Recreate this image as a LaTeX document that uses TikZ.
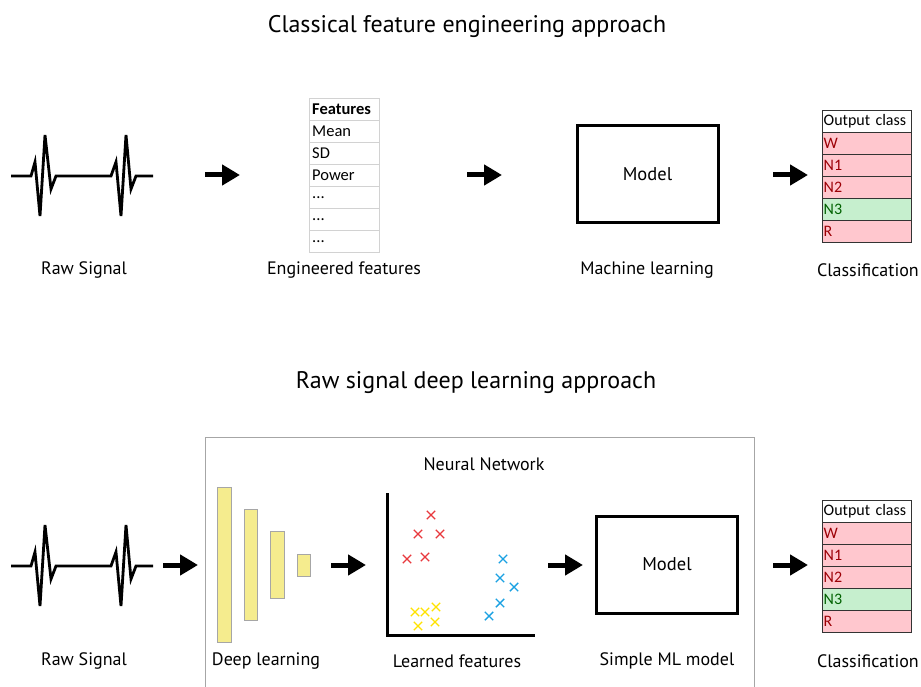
\documentclass[tikz,border=0pt]{standalone}
\usepackage{fontspec}
\setmainfont{PT Sans}
\newfontfamily\calibri{Carlito}
\usetikzlibrary{arrows.meta,shapes.misc}
\definecolor{badfill}{HTML}{FFC7CE}
\definecolor{badtext}{HTML}{9C0006}
\definecolor{goodfill}{HTML}{C6EFCE}
\definecolor{goodtext}{HTML}{006100}
\definecolor{layerfill}{HTML}{F5EC8E}
\definecolor{ptred}{HTML}{E8383D}
\definecolor{ptblue}{HTML}{1BA1E2}
\definecolor{ptyellow}{HTML}{FFE200}
\begin{document}
\begin{tikzpicture}[x=1pt,y=-1pt,
  bigarrow/.style={line width=5pt,-{Triangle[length=18pt,width=20pt]}},
  lbl/.style={font=\fontsize{18}{21}\selectfont},
  ttl/.style={font=\fontsize{24}{28}\selectfont},
  ecg/.style={line width=2.8pt},
  feat/.style={draw=gray!35, anchor=north west, minimum height=22pt, text width=64pt, inner xsep=3pt, inner ysep=0pt, align=left, font=\calibri\fontsize{16.5}{18}\selectfont},
  outc/.style={draw=black!80, anchor=north west, minimum height=22pt, text width=86pt, inner xsep=1.5pt, inner ysep=0pt, align=left, font=\calibri\fontsize{16}{18}\selectfont, fill=badfill, text=badtext},
  good/.style={fill=goodfill, text=goodtext},
  modelbox/.style={draw, line width=3pt, minimum width=141pt, minimum height=97pt, font=\fontsize{18.5}{21}\selectfont},
  layer/.style={draw=gray!70, fill=layerfill, line width=0.8pt},
  xm/.style={cross out, draw=#1, line width=1.4pt, minimum size=7pt, inner sep=0pt}]
\useasboundingbox (0,0) rectangle (921,687);

\node[ttl] (t1) at (467,27) {Classical feature engineering approach};
\node[ttl] (t2) at (476,383) {Raw signal deep learning approach};

\draw[ecg] (11,176) -- (31,176) -- (35,162) -- (40,216) -- (45,135) -- (51,189) -- (56,176) -- (111,176) -- (116,162) -- (121,216) -- (126,135) -- (131,189) -- (136,176) -- (153,176);
\draw[ecg] (11,566) -- (31,566) -- (35,552) -- (40,606) -- (45,525) -- (51,579) -- (56,566) -- (111,566) -- (116,552) -- (121,606) -- (126,525) -- (131,579) -- (136,566) -- (153,566);

\node[feat, font=\calibri\bfseries\fontsize{16.5}{18}\selectfont] (f0) at (309,98) {Features};
\node[feat] (f1) at (309,120) {Mean};
\node[feat] (f2) at (309,142) {SD};
\node[feat] (f3) at (309,164) {Power};
\node[feat] (f4) at (309,186) {...};
\node[feat] (f5) at (309,208) {...};
\node[feat] (f6) at (309,230) {...};

\node[modelbox] (mdl1) at (647.5,174.5) {Model};

\node[outc, fill=white, text=black] (c0) at (822,110) {Output class};
\node[outc] (c1) at (822,132) {W};
\node[outc] (c2) at (822,154) {N1};
\node[outc] (c3) at (822,176) {N2};
\node[outc, good] (c4) at (822,198) {N3};
\node[outc] (c5) at (822,220) {R};

\coordinate (a1s) at (205,175); \coordinate (a1e) at (240,175);
\coordinate (a2s) at (467,175); \coordinate (a2e) at (502,175);
\coordinate (a3s) at (773,175); \coordinate (a3e) at (808,175);
\draw[bigarrow] (a1s) -- (a1e);
\draw[bigarrow] (a2s) -- (a2e);
\draw[bigarrow] (a3s) -- (a3e);

\node[lbl] (l1) at (84,270) {Raw Signal};
\node[lbl] (l2) at (344,270) {Engineered features};
\node[lbl] (l3) at (647,270) {Machine learning};
\node[lbl] (l4) at (868,270) {Classification};

\draw[gray!70, line width=0.8pt] (205,690) -- (205,437) -- (754,437) -- (754,690);
\node[lbl] (nn) at (484,464) {Neural Network};

\draw[layer] (217,487) rectangle (231,642);
\draw[layer] (244,509) rectangle (257,620);
\draw[layer] (270,531) rectangle (284,598);
\draw[layer] (297,554) rectangle (310,576);

\draw[line width=3pt] (387,493) -- (387,635) -- (535,635);

\node[xm=ptred] (r1) at (431,515) {};
\node[xm=ptred] (r2) at (418,534) {};
\node[xm=ptred] (r3) at (440,534) {};
\node[xm=ptred] (r4) at (407,559) {};
\node[xm=ptred] (r5) at (425,557) {};
\node[xm=ptblue] (b1) at (503,559) {};
\node[xm=ptblue] (b2) at (500,578) {};
\node[xm=ptblue] (b3) at (514,587) {};
\node[xm=ptblue] (b4) at (500,603) {};
\node[xm=ptblue] (b5) at (489,616) {};
\node[xm=ptyellow] (y1) at (415,612) {};
\node[xm=ptyellow] (y2) at (425,612) {};
\node[xm=ptyellow] (y3) at (436,607) {};
\node[xm=ptyellow] (y4) at (418,626) {};
\node[xm=ptyellow] (y5) at (435,622) {};

\node[modelbox] (mdl2) at (667,564.5) {Model};

\node[outc, fill=white, text=black] (d0) at (822,500) {Output class};
\node[outc] (d1) at (822,522) {W};
\node[outc] (d2) at (822,544) {N1};
\node[outc] (d3) at (822,566) {N2};
\node[outc, good] (d4) at (822,588) {N3};
\node[outc] (d5) at (822,610) {R};

\coordinate (b1s) at (163,565); \coordinate (b1e) at (198,565);
\coordinate (b2s) at (331,565); \coordinate (b2e) at (366,565);
\coordinate (b3s) at (548,565); \coordinate (b3e) at (583,565);
\coordinate (b4s) at (773,565); \coordinate (b4e) at (808,565);
\draw[bigarrow] (b1s) -- (b1e);
\draw[bigarrow] (b2s) -- (b2e);
\draw[bigarrow] (b3s) -- (b3e);
\draw[bigarrow] (b4s) -- (b4e);

\node[lbl] (m1) at (84,661) {Raw Signal};
\node[lbl] (m2) at (266,661) {Deep learning};
\node[lbl] (m3) at (457,661) {Learned features};
\node[lbl] (m4) at (667,661) {Simple ML model};
\node[lbl] (m5) at (868,661) {Classification};
\end{tikzpicture}
\end{document}
